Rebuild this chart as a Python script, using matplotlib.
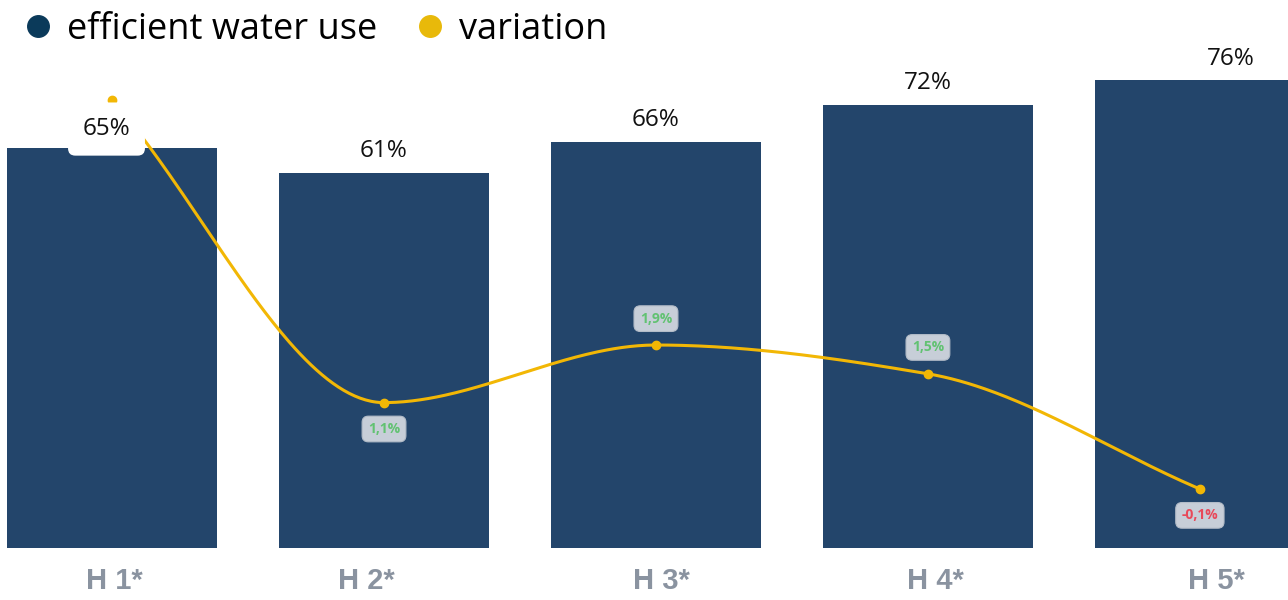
import numpy as np
import matplotlib.pyplot as plt
import matplotlib.transforms as mtransforms
from matplotlib.lines import Line2D

halves = ['H 1*', 'H 2*', 'H 3*', 'H 4*', 'H 5*']
efficient_use = [65, 61, 66, 72, 76]
variation = [5.3, 1.1, 1.9, 1.5, -0.1]
variation_labels = [None, '1,1%', '1,9%', '1,5%', '-0,1%']
label_side = [0, -1, 1, 1, -1]
tick_shift_px = [2, -18, 5, 8, 17]

BAR = '#23456b'
YELLOW = '#f2b705'


def pchip(x, y, xs):
    # monotone cubic (Fritsch-Carlson) for a smooth line through the points
    x = np.asarray(x, float)
    y = np.asarray(y, float)
    h = np.diff(x)
    d = np.diff(y) / h
    m = np.zeros_like(y)
    for k in range(1, len(y) - 1):
        if d[k - 1] * d[k] > 0:
            w1 = 2 * h[k] + h[k - 1]
            w2 = h[k] + 2 * h[k - 1]
            m[k] = (w1 + w2) / (w1 / d[k - 1] + w2 / d[k])
    m[0] = d[0]
    m[-1] = d[-1]
    out = np.empty_like(xs)
    for j, xv in enumerate(xs):
        k = min(np.searchsorted(x, xv, side='right') - 1, len(x) - 2)
        t = (xv - x[k]) / h[k]
        h00 = 2 * t**3 - 3 * t**2 + 1
        h10 = t**3 - 2 * t**2 + t
        h01 = -2 * t**3 + 3 * t**2
        h11 = t**3 - t**2
        out[j] = h00 * y[k] + h10 * h[k] * m[k] + h01 * y[k + 1] + h11 * h[k] * m[k + 1]
    return out


plt.rcParams['font.family'] = ['Open Sans', 'DejaVu Sans']

fig = plt.figure(figsize=(12.88, 6), dpi=100)
ax = fig.add_axes([0, 52 / 600, 1, 488 / 600])
x = np.arange(len(halves))

ax.bar(x, efficient_use, width=0.772, color=BAR, zorder=2)
ax.set_xlim(-0.412, 4.324)
ax.set_ylim(0, 79.3)
ax.set_xticks(x)
ax.set_xticklabels(halves, family='Liberation Sans', fontweight='bold',
                   fontsize=21, color='#8a93a0')
ax.tick_params(axis='x', length=0, pad=14)
for lbl, dx in zip(ax.get_xticklabels(), tick_shift_px):
    lbl.set_transform(lbl.get_transform() +
                      mtransforms.ScaledTranslation(dx / 100, 0, fig.dpi_scale_trans))
ax.set_yticks([])
for s in ax.spines.values():
    s.set_visible(False)

ax2 = ax.twinx()
ax2.set_ylim(-0.92, 5.86)
ax2.set_yticks([])
for s in ax2.spines.values():
    s.set_visible(False)

xs = np.linspace(0, len(x) - 1, 400)
ax2.plot(xs, pchip(x, variation, xs), color=YELLOW, lw=2.2, zorder=3)
ax2.plot(x, variation, 'o', color=YELLOW, ms=6, zorder=4)

for i, lab in enumerate(variation_labels):
    if lab is None:
        continue
    col = '#e8495a' if variation[i] < 0 else '#62c272'
    ax2.annotate(lab, (x[i], variation[i]), xytext=(0, 19 * label_side[i]),
                 textcoords='offset points', ha='center', va='center',
                 fontsize=10, fontweight='bold', color=col, zorder=5,
                 bbox=dict(boxstyle='round,pad=0.42,rounding_size=0.45',
                           fc='#c7ced8', ec='#b3bcc8', lw=0.8))

# bar value labels on top of the line
for i, v in enumerate(efficient_use):
    dx = {0: -4, len(x) - 1: 22}.get(i, 0)
    dy = 5 if i == 0 else 7
    box = None
    if i == 0:
        box = dict(boxstyle='round,pad=0.6,rounding_size=0.3', fc='white', ec='none')
    ax2.annotate(f'{v}%', (x[i], v), xycoords=ax.transData,
                 xytext=(dx, dy), textcoords='offset points',
                 ha='center', va='bottom', fontsize=17.5, color='#111111',
                 zorder=6, bbox=box)

handles = [
    Line2D([], [], marker='o', ls='none', ms=15.5, color='#0b3a5a'),
    Line2D([], [], marker='o', ls='none', ms=15.5, color='#e8b90a'),
]
fig.legend(handles, ['efficient water use', 'variation'], loc='upper left',
           bbox_to_anchor=(-0.0095, 1.034), ncol=2, frameon=False, fontsize=26,
           handletextpad=0.3, columnspacing=0.95, handlelength=1.0)

fig.savefig('out.png', dpi=100)
